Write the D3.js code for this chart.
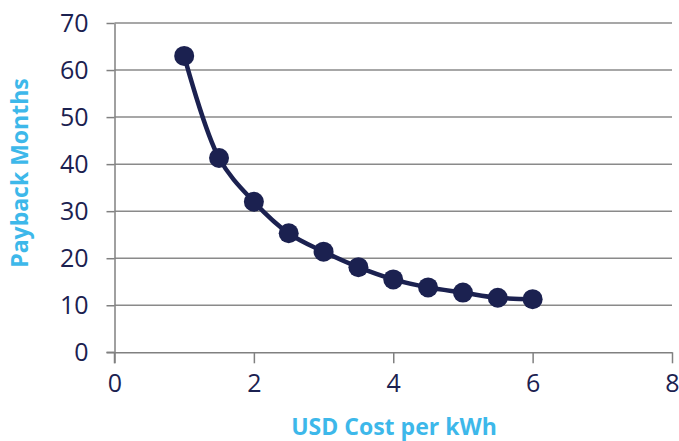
<!DOCTYPE html>
<html>
<head>
<meta charset="utf-8">
<script src="https://cdn.jsdelivr.net/npm/d3@7"></script>
<style>
  html, body { margin: 0; padding: 0; background: #fff; }
  svg { display: block; }
</style>
</head>
<body>
<svg id="chart" width="679" height="441"></svg>
<script>
// Payback period versus electricity cost
const costPerKwh = [1, 1.5, 2, 2.5, 3, 3.5, 4, 4.5, 5, 5.5, 6];
const paybackMonths = [63, 41.3, 32, 25.3, 21.4, 18.1, 15.5, 13.8, 12.7, 11.6, 11.3];
const xTicks = [0, 2, 4, 6, 8];
const yTicks = [0, 10, 20, 30, 40, 50, 60, 70];
const xTitle = "USD Cost per kWh";
const yTitle = "Payback Months";

const navy = "#1b2150";
const blue = "#3db8ea";
const gray = "#808080";
const font = "'Open Sans', 'Liberation Sans', sans-serif";

const svg = d3.select("#chart");
const plotLeft = 114.5, plotRight = 672, plotTop = 23, plotBottom = 352.3;

const x = d3.scaleLinear().domain([0, 8]).range([plotLeft, plotRight]);
const y = d3.scaleLinear().domain([0, 70]).range([plotBottom, plotTop]);

// horizontal gridlines
svg.append("g").selectAll("line")
  .data(yTicks.filter(v => v > 0))
  .join("line")
  .attr("x1", plotLeft).attr("x2", plotRight)
  .attr("y1", d => y(d)).attr("y2", d => y(d))
  .attr("stroke", "#8a8a8a").attr("stroke-width", 1.5);

// y axis
const yAxis = svg.append("g")
  .attr("transform", `translate(${plotLeft},0)`)
  .call(d3.axisLeft(y).tickValues(yTicks).tickSize(8).tickPadding(18).tickSizeOuter(0));
// x axis
const xAxis = svg.append("g")
  .attr("transform", `translate(0,${plotBottom})`)
  .call(d3.axisBottom(x).tickValues(xTicks).tickSize(11).tickPadding(11).tickSizeOuter(0));

[yAxis, xAxis].forEach(g => {
  g.select(".domain").attr("stroke", gray).attr("stroke-width", 1.5);
  g.selectAll(".tick line").attr("stroke", gray).attr("stroke-width", 1.5);
  g.selectAll(".tick text")
    .attr("fill", navy)
    .style("font-family", font)
    .style("font-size", "25px");
});
// extend axis lines past the origin
svg.append("line")
  .attr("x1", plotLeft).attr("x2", plotLeft)
  .attr("y1", plotBottom).attr("y2", plotBottom + 11)
  .attr("stroke", gray).attr("stroke-width", 1.5);
svg.append("line")
  .attr("x1", plotLeft - 8).attr("x2", plotLeft)
  .attr("y1", plotBottom).attr("y2", plotBottom)
  .attr("stroke", gray).attr("stroke-width", 1.5);

// smoothed series line
const pts = costPerKwh.map((c, i) => [c, paybackMonths[i]]);
const line = d3.line()
  .x(d => x(d[0])).y(d => y(d[1]))
  .curve(d3.curveCatmullRom.alpha(0.5));
svg.append("path")
  .datum(pts)
  .attr("d", line)
  .attr("fill", "none")
  .attr("stroke", navy)
  .attr("stroke-width", 4.5);

// markers
svg.append("g").selectAll("circle")
  .data(pts)
  .join("circle")
  .attr("cx", d => x(d[0]))
  .attr("cy", d => y(d[1]))
  .attr("r", 10)
  .attr("fill", navy);

// axis titles
svg.append("text")
  .attr("x", 394).attr("y", 435)
  .attr("text-anchor", "middle")
  .attr("fill", blue)
  .style("font-family", font)
  .style("font-weight", "bold")
  .style("font-size", "23px")
  .text(xTitle);

svg.append("text")
  .attr("transform", "translate(28,173) rotate(-90)")
  .attr("text-anchor", "middle")
  .attr("fill", blue)
  .style("font-family", font)
  .style("font-weight", "bold")
  .style("font-size", "23px")
  .text(yTitle);
</script>
</body>
</html>
